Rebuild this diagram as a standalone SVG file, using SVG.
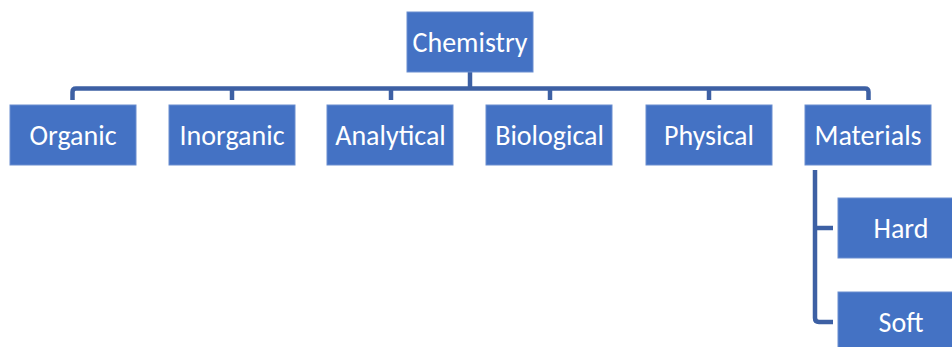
<svg xmlns="http://www.w3.org/2000/svg" width="952" height="347" viewBox="0 0 952 347">
<style>
.box{fill:#4472C4;stroke:#6A8ED0;stroke-width:1}
.lbl{font-family:Carlito,Lato,"Liberation Sans",sans-serif;font-size:28px;fill:#FFFFFF;text-anchor:middle;dominant-baseline:central}
.con{fill:none;stroke:#3D60A4;stroke-width:4.5;stroke-linejoin:round}
</style>
<rect width="952" height="347" fill="#FFFFFF"/>
<g id="connectors">
<path class="con" d="M470 72 V88.5"/>
<path class="con" d="M72.5 100 V92 Q72.5 88.5 76 88.5 H865 Q868.5 88.5 868.5 92 V100"/>
<path class="con" d="M232 88.5 V100"/>
<path class="con" d="M391 88.5 V100"/>
<path class="con" d="M550 88.5 V100"/>
<path class="con" d="M709 88.5 V100"/>
<path class="con" d="M815 170 V318 Q815 322 819 322 H833"/>
<path class="con" d="M815 228 H833"/>
</g>
<g id="chemistry"><rect class="box" x="407" y="12" width="126" height="60"/><text class="lbl" x="470" y="42">Chemistry</text></g>
<g id="organic"><rect class="box" x="10" y="105" width="126" height="60"/><text class="lbl" x="73" y="135">Organic</text></g>
<g id="inorganic"><rect class="box" x="169" y="105" width="126" height="60"/><text class="lbl" x="232" y="135">Inorganic</text></g>
<g id="analytical"><rect class="box" x="327" y="105" width="126" height="60"/><text class="lbl" x="390.5" y="135">Analytical</text></g>
<g id="biological"><rect class="box" x="486" y="105" width="126" height="60"/><text class="lbl" x="549.5" y="135">Biological</text></g>
<g id="physical"><rect class="box" x="646" y="105" width="126" height="60"/><text class="lbl" x="709" y="135">Physical</text></g>
<g id="materials"><rect class="box" x="805" y="105" width="126" height="60"/><text class="lbl" x="868" y="135">Materials</text></g>
<g id="hard"><rect class="box" x="838" y="198" width="126" height="60"/><text class="lbl" x="901" y="228">Hard</text></g>
<g id="soft"><rect class="box" x="838" y="292" width="126" height="60"/><text class="lbl" x="901" y="322">Soft</text></g>
</svg>
